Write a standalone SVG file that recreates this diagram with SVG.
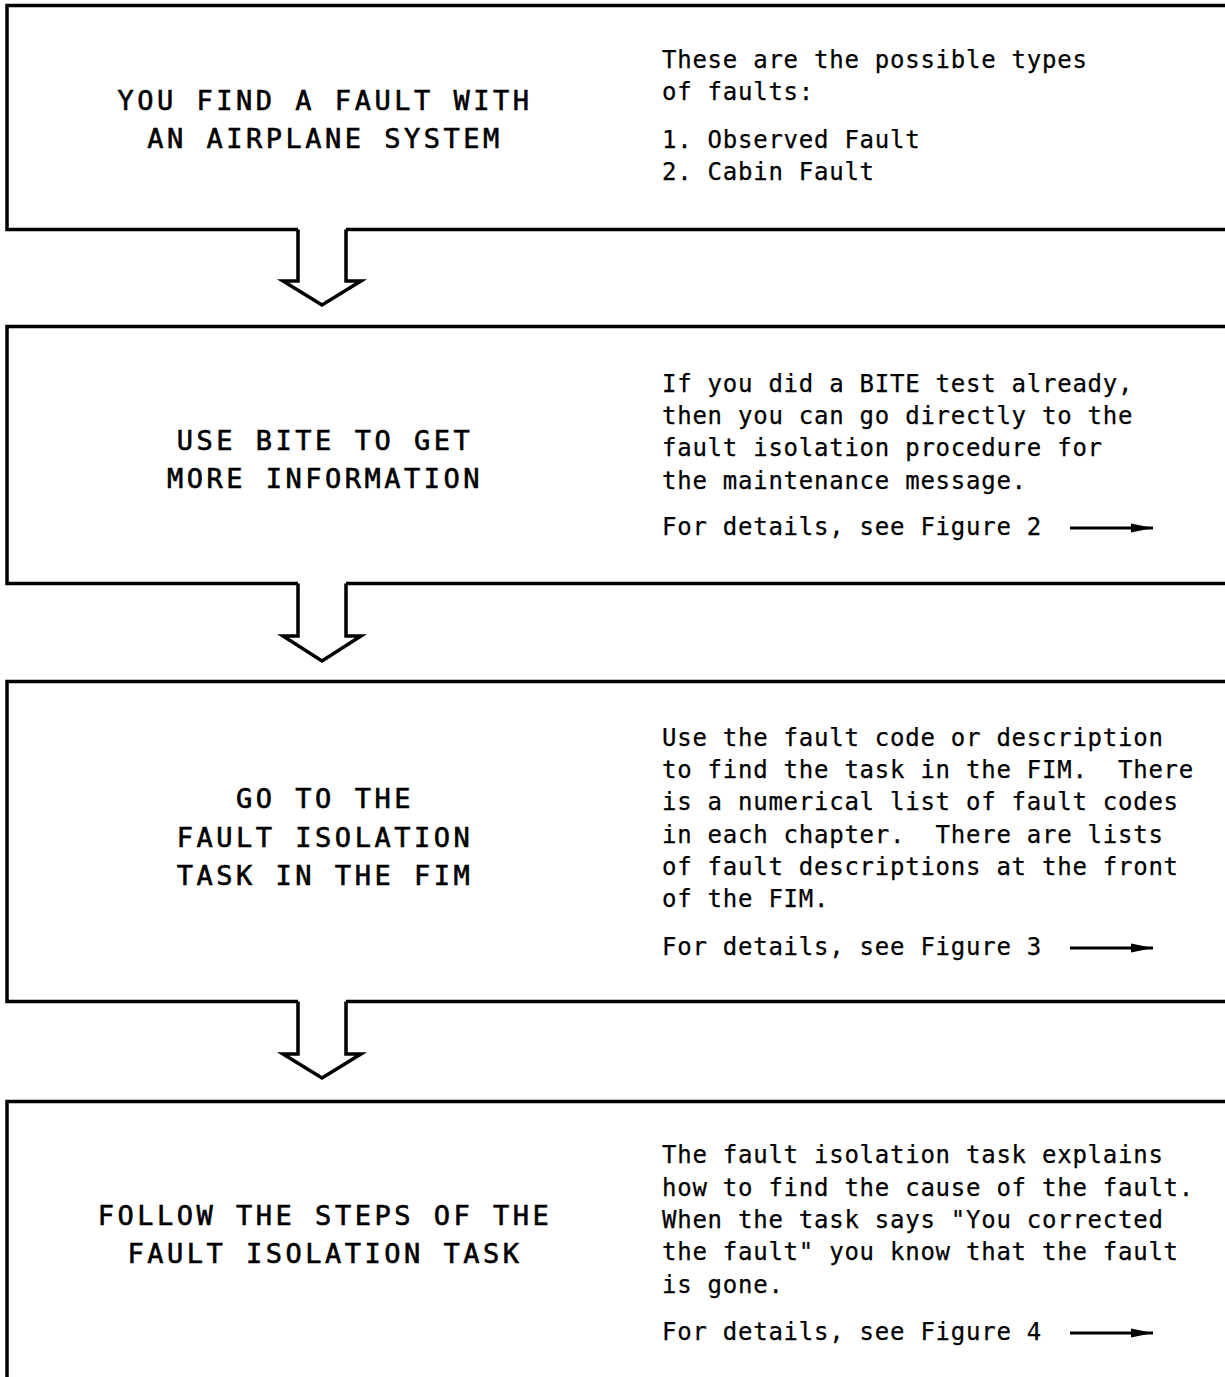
<svg xmlns="http://www.w3.org/2000/svg" width="1225" height="1377" viewBox="0 0 1225 1377">
<defs>
<style>
.box{fill:none;stroke:#000;stroke-width:3.5;stroke-linejoin:miter}
.blk{fill:#fff;stroke:#000;stroke-width:3.5;stroke-linejoin:miter}
.title{font-family:"DejaVu Sans Mono","Liberation Mono",monospace;font-size:27px;letter-spacing:3.5px;text-anchor:middle;fill:#000;stroke:#000;stroke-width:0.6}
.body{font-family:"DejaVu Sans Mono","Liberation Mono",monospace;font-size:24px;letter-spacing:0.75px;fill:#000;white-space:pre;stroke:#000;stroke-width:0.25}
.ref{stroke:#000;stroke-width:2.8;fill:none}
</style>
<marker id="ah" markerWidth="24" markerHeight="12" refX="22" refY="6" orient="auto" markerUnits="userSpaceOnUse">
<path d="M0,1.5 L22,6 L0,10.5 Z" fill="#000"/>
</marker>
</defs>
<rect width="1225" height="1377" fill="#fff"/>
<g id="node1">
<path class="box" d="M298 229.5 H7 V5.5 H1235 M346 229.5 H1235"/>
<text class="title" x="325" y="110">YOU FIND A FAULT WITH</text>
<text class="title" x="325" y="148">AN AIRPLANE SYSTEM</text>
<text class="body" x="662" y="68">These are the possible types</text>
<text class="body" x="662" y="100">of faults:</text>
<text class="body" x="662" y="148">1. Observed Fault</text>
<text class="body" x="662" y="180">2. Cabin Fault</text>
</g>
<g id="node2">
<path class="box" d="M298 583.5 H7 V326.5 H1235 M346 583.5 H1235"/>
<text class="title" x="325" y="450">USE BITE TO GET</text>
<text class="title" x="325" y="488">MORE INFORMATION</text>
<text class="body" x="662" y="392">If you did a BITE test already,</text>
<text class="body" x="662" y="424">then you can go directly to the</text>
<text class="body" x="662" y="456">fault isolation procedure for</text>
<text class="body" x="662" y="489">the maintenance message.</text>
<text class="body" x="662" y="535">For details, see Figure 2</text>
<line class="ref" x1="1070" y1="528" x2="1153" y2="528" marker-end="url(#ah)"/>
</g>
<g id="node3">
<path class="box" d="M298 1001.5 H7 V681.5 H1235 M346 1001.5 H1235"/>
<text class="title" x="325" y="808">GO TO THE</text>
<text class="title" x="325" y="847">FAULT ISOLATION</text>
<text class="title" x="325" y="885">TASK IN THE FIM</text>
<text class="body" x="662" y="746">Use the fault code or description</text>
<text class="body" x="662" y="778">to find the task in the FIM.  There</text>
<text class="body" x="662" y="810">is a numerical list of fault codes</text>
<text class="body" x="662" y="843">in each chapter.  There are lists</text>
<text class="body" x="662" y="875">of fault descriptions at the front</text>
<text class="body" x="662" y="907">of the FIM.</text>
<text class="body" x="662" y="955">For details, see Figure 3</text>
<line class="ref" x1="1070" y1="948" x2="1153" y2="948" marker-end="url(#ah)"/>
</g>
<g id="node4">
<path class="box" d="M7 1385 V1101.5 H1235"/>
<text class="title" x="325" y="1225">FOLLOW THE STEPS OF THE</text>
<text class="title" x="325" y="1263">FAULT ISOLATION TASK</text>
<text class="body" x="662" y="1163">The fault isolation task explains</text>
<text class="body" x="662" y="1196">how to find the cause of the fault.</text>
<text class="body" x="662" y="1228">When the task says "You corrected</text>
<text class="body" x="662" y="1260">the fault" you know that the fault</text>
<text class="body" x="662" y="1293">is gone.</text>
<text class="body" x="662" y="1340">For details, see Figure 4</text>
<line class="ref" x1="1070" y1="1333" x2="1153" y2="1333" marker-end="url(#ah)"/>
</g>
<g id="connectors">
<polyline class="blk" points="298,229.5 298,281 283,281 322,305 361,281 346,281 346,229.5"/>
<polyline class="blk" points="298,583.5 298,636 283,636 322,661 361,636 346,636 346,583.5"/>
<polyline class="blk" points="298,1001.5 298,1054 283,1054 322,1078 361,1054 346,1054 346,1001.5"/>
</g>
</svg>
